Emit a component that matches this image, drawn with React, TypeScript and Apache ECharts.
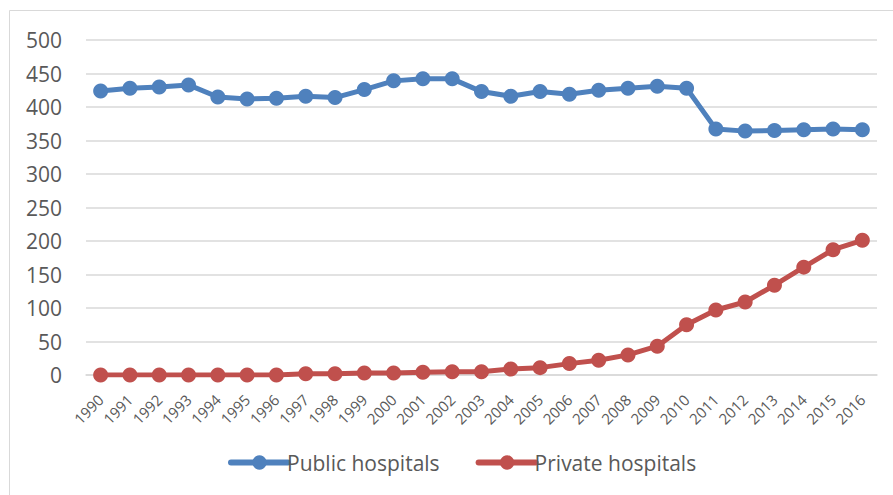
import React, { useEffect, useRef } from "react";
import * as echarts from "echarts";

const years = [
  "1990", "1991", "1992", "1993", "1994", "1995", "1996", "1997", "1998", "1999",
  "2000", "2001", "2002", "2003", "2004", "2005", "2006", "2007", "2008", "2009",
  "2010", "2011", "2012", "2013", "2014", "2015", "2016",
];
const publicHospitals = [
  424, 428, 430, 433, 415, 412, 413, 416, 414, 426,
  439, 442, 442, 423, 416, 423, 419, 425, 428, 431,
  428, 367, 364, 365, 366, 367, 366,
];
const privateHospitals = [
  0, 0, 0, 0, 0, 0, 0, 2, 2, 3,
  3, 4, 5, 5, 9, 11, 17, 22, 30, 43,
  75, 97, 109, 134, 161, 187, 201,
];
const seriesNames = ["Public hospitals", "Private hospitals"];

const FONT = "'Open Sans', 'Liberation Sans', sans-serif";
const TEXT = "#595959";

export default function App() {
  const ref = useRef<HTMLDivElement>(null);
  useEffect(() => {
    if (!ref.current) return;
    const chart = echarts.init(ref.current, undefined, { renderer: "svg" });
    chart.setOption({
      animation: false,
      backgroundColor: "#ffffff",
      textStyle: { fontFamily: FONT },
      graphic: [
        {
          type: "rect",
          shape: { x: 9.5, y: 10.5, width: 1000, height: 1000 },
          style: { fill: "none", stroke: "#d9d9d9", lineWidth: 1 },
          silent: true,
          z: -1,
        },
      ],
      grid: { left: 86, right: 16, top: 40, bottom: 120, containLabel: false },
      legend: {
        left: 223,
        top: 447,
        itemWidth: 57,
        itemHeight: 18,
        itemGap: 36,
        lineStyle: { width: 6, cap: "round" },
        textStyle: { fontFamily: FONT, fontSize: 21, color: TEXT, padding: [0, 0, 0, -6] },
        data: seriesNames,
      },
      xAxis: {
        type: "category",
        data: years,
        boundaryGap: true,
        axisLine: { show: true, lineStyle: { color: "#d9d9d9", width: 1.5 } },
        axisTick: { show: false },
        axisLabel: {
          rotate: 45,
          fontSize: 15,
          color: TEXT,
          fontFamily: FONT,
          margin: 22,
          interval: 0,
        },
      },
      yAxis: {
        type: "value",
        min: 0,
        max: 500,
        interval: 50,
        axisLine: { show: false },
        axisTick: { show: false },
        splitLine: { lineStyle: { color: "#d9d9d9", width: 1.5 } },
        axisLabel: { fontSize: 21, color: TEXT, fontFamily: FONT, margin: 24 },
      },
      series: [
        {
          name: seriesNames[0],
          type: "line",
          data: publicHospitals,
          symbol: "circle",
          symbolSize: 15,
          itemStyle: { color: "#4F81BD" },
          lineStyle: { color: "#4F81BD", width: 5, cap: "round" },
        },
        {
          name: seriesNames[1],
          type: "line",
          data: privateHospitals,
          symbol: "circle",
          symbolSize: 15,
          itemStyle: { color: "#C0504D" },
          lineStyle: { color: "#C0504D", width: 5, cap: "round" },
        },
      ],
    });
    return () => chart.dispose();
  }, []);
  return (
    <div
      ref={ref}
      style={{ position: "absolute", left: 0, top: 0, width: 893, height: 495 }}
    />
  );
}
